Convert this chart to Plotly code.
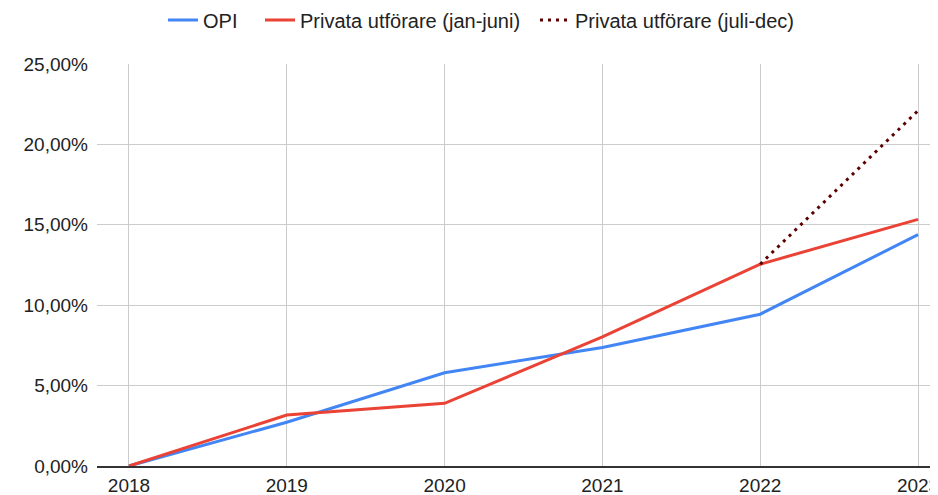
import plotly.graph_objects as go

years = [2018, 2019, 2020, 2021, 2022, 2023]
opi = [0.0, 0.0272, 0.0580, 0.0737, 0.0944, 0.1439]
privata_jan_juni = [0.0, 0.0317, 0.0390, 0.0803, 0.1255, 0.1534]
years_juli_dec = [2022, 2023]
privata_juli_dec = [0.1255, 0.2210]
y_ticks = [0, 0.05, 0.10, 0.15, 0.20, 0.25]

font_family = "Liberation Sans, Arial, sans-serif"
FIG_W, FIG_H = 930, 487

fig = go.Figure()
fig.add_trace(go.Scatter(x=years, y=opi, mode="lines", name="OPI",
                         line=dict(color="#4285F4", width=3), legend="legend"))
fig.add_trace(go.Scatter(x=years, y=privata_jan_juni, mode="lines",
                         name="Privata utförare (jan-juni)",
                         line=dict(color="#EA4335", width=3), legend="legend2"))
fig.add_trace(go.Scatter(x=years_juli_dec, y=privata_juli_dec, mode="lines",
                         name="Privata utförare (juli-dec)",
                         line=dict(color="#5c0000", width=3, dash="3px,5px"),
                         legend="legend3"))


def leg(text_start_px):
    return dict(orientation="h", xref="container", yref="container",
                x=(text_start_px - 40) / FIG_W, xanchor="left",
                y=1 - 12 / FIG_H, yanchor="middle",
                font=dict(size=20, color="#222"),
                itemwidth=30, bgcolor="rgba(0,0,0,0)")


fig.update_layout(
    width=FIG_W, height=FIG_H,
    margin=dict(l=89, r=0, t=56, b=29),
    paper_bgcolor="white", plot_bgcolor="white",
    separators=", ",
    font=dict(family=font_family, size=19, color="#222"),
    showlegend=True,
    legend=leg(195), legend2=leg(292), legend3=leg(567),
)

fig.update_xaxes(
    range=[2018 - 32 / 158, 2023 + 20 / 158],
    tickvals=years, ticktext=[str(y) for y in years],
    showgrid=True, gridcolor="#cccccc", gridwidth=1,
    zeroline=False, showline=True, linecolor="#333333", linewidth=1.5,
    ticks="", ticklabeloverflow="allow", automargin=False,
    ticklabelstandoff=1,
    tickfont=dict(size=19, color="#222"),
)
fig.update_yaxes(
    range=[0, 0.25], tickvals=y_ticks, tickformat=".2%",
    showgrid=True, gridcolor="#cccccc", gridwidth=1,
    zeroline=False, showline=False, ticks="", automargin=False,
    ticklabelstandoff=8,
    tickfont=dict(size=19, color="#222"),
)

fig.write_html("out.html")
